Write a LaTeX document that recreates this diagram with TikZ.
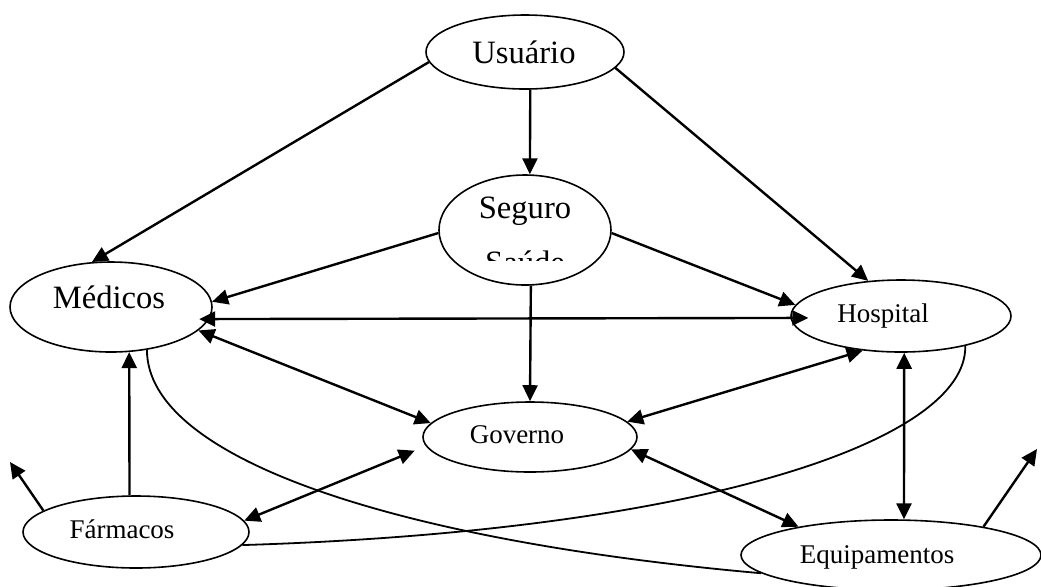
\documentclass[tikz,border=0pt]{standalone}
\usepackage{fontspec}
\setmainfont{Liberation Serif}
\usepackage{tikz}
\usetikzlibrary{arrows.meta}
\usetikzlibrary{shapes.geometric}
\newcommand{\bubble}[4]{\node(#1)[bubble,minimum width=#3pt,minimum height=#4pt] at (#2) {}}
\newcommand{\btext}[4]{\node(#1)[#2,anchor=base] at (#3) {#4}}

\begin{document}
\begin{tikzpicture}[
        x=0.5pt, y=-0.5pt,
        bigtip/.tip={Triangle[length=8pt,width=7.5pt]},
        bubble/.style={ellipse,draw,line width=0.8pt,inner sep=0pt},
        big/.style={font=\fontsize{16.3}{19}\selectfont,inner sep=0pt},
        small/.style={font=\fontsize{13.5}{16}\selectfont,inner sep=0pt},
        link/.style={line width=1.2pt,-bigtip},
        both/.style={line width=1.2pt,bigtip-bigtip},
        plain/.style={line width=0.9pt}
      ]
      \clip (0,0) rectangle (1041,586);

      % The ellipses, placed at pixel positions of the scan
      \bubble{usu}{525,52}{99}{37};
      \bubble{seg}{525,230}{86}{55};
      \bubble{med}{111,307}{101}{45};
      \bubble{hos}{901,316}{110}{36};
      \bubble{gov}{530,437}{107}{35};
      \bubble{far}{136,532}{113}{36};
      \bubble{equ}{891,555}{150}{35};

      % Their texts (the second line of Seguro is cut off)
      \btext{usutxt}{big}{524,63}{Usuário};
      \btext{segtxt}{big}{525,218}{Seguro};
      \begin{scope}
        \clip (440,240) rectangle (610,260);
        \btext{saudetxt}{big}{525,273}{Saúde};
      \end{scope}
      \btext{medtxt}{big}{109,308}{Médicos};
      \btext{hostxt}{small}{883,322}{Hospital};
      \btext{govtxt}{small}{517,443}{Governo};
      \btext{fartxt}{small}{122,538}{Fármacos};
      \btext{equtxt}{small}{877,563}{Equipamentos};

      % Free ends of the two loose arrows
      \coordinate (farout) at (10,462);
      \coordinate (equout) at (1037,449);

      % One-way arrows
      \draw[link] (usu.186) -- (med.113);
      \draw[link] (usu.278) -- (seg.85);
      \draw[link] (usu.350) -- (hos.133);
      \draw[link] (seg.182) -- (med.3);
      \draw[link] (seg.358) -- (hos.174);
      \draw[link] (seg.276) -- (gov.north);
      \draw[link] (far.100) -- (med.292);
      \draw[link] (far.167) -- (farout);
      \draw[link] (equ.17) -- (equout);

      % Two-way arrows
      \draw[both, shorten <=-5pt, shorten >=-9pt] (med.353) -- (hos.181);
      \draw[both] (med.345) -- (gov.172);
      \draw[both] (hos.222) -- (gov.9);
      \draw[both] (hos.275) -- (equ.70);
      \draw[both, shorten <=6pt] (gov.185) -- (far.6);
      \draw[both] (gov.353) -- (equ.163);

      % Long curves without tips
      \draw[plain] (med.310) .. controls +(0,110) and +(-361,-32) .. (equ.188);
      \draw[plain] (hos.335) .. controls +(2,95) and +(458,-14) .. (far.353);
    \end{tikzpicture}
\end{document}
